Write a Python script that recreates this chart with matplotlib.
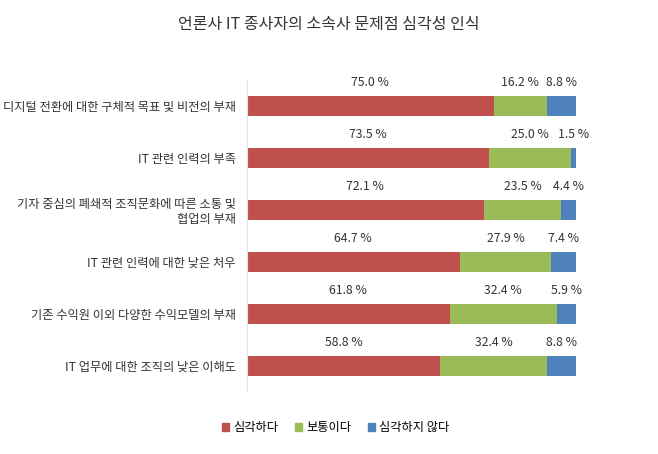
import numpy as np
import matplotlib
matplotlib.use("Agg")
from matplotlib import pyplot as plt
from matplotlib.patches import Patch

plt.rcParams['font.family'] = ['Noto Sans CJK KR', 'DejaVu Sans']

categories = ["디지털 전환에 대한 구체적 목표 및 비전의 부재",
              "IT 관련 인력의 부족",
              "기자 중심의 폐쇄적 조직문화에 따른 소통 및\n협업의 부재",
              "IT 관련 인력에 대한 낮은 처우",
              "기존 수익원 이외 다양한 수익모델의 부재",
              "IT 업무에 대한 조직의 낮은 이해도"]
series = ["심각하다", "보통이다", "심각하지 않다"]
serious = [75.0, 73.5, 72.1, 64.7, 61.8, 58.8]
normal = [16.2, 25.0, 23.5, 27.9, 32.4, 32.4]
not_serious = [8.8, 1.5, 4.4, 7.4, 5.9, 8.8]
colors = ["#C0504D", "#9BBB59", "#4F81BD"]

fig = plt.figure(figsize=(6.58, 4.54), dpi=100)
ax = fig.add_axes([0.375, 0.137, 0.5, 0.687])

y = np.arange(len(categories))
left = np.zeros(len(categories))
for vals, col in zip([serious, normal, not_serious], colors):
    vals = np.array(vals)
    ax.barh(y, vals, left=left, height=0.38, color=col)
    for yi, l, v in zip(y, left, vals):
        ax.text(l + v / 2, yi - 0.45, "%.1f %%" % v, ha='center', va='center',
                fontsize=8.8, color='#333333')
    left = left + vals

ax.set_xlim(0, 100)
ax.set_ylim(5.5, -0.5)
ax.set_yticks(y)
ax.set_yticklabels(categories, fontsize=8.8, color='#333333')
ax.tick_params(axis='y', length=0, pad=8)
ax.set_xticks([])
for s in ['top', 'right', 'bottom']:
    ax.spines[s].set_visible(False)
ax.spines['left'].set_color('#e6e6e6')

fig.suptitle("언론사 IT 종사자의 소속사 문제점 심각성 인식", x=0.5, y=0.965,
             fontsize=11.5, color='#333333')

handles = [Patch(color=c, label=s) for c, s in zip(colors, series)]
fig.legend(handles=handles, loc='center', bbox_to_anchor=(0.51, 0.058), ncol=3,
           frameon=False, fontsize=8.8, handlelength=0.6, handleheight=0.6,
           handletextpad=0.3, columnspacing=1.4)

fig.savefig("out.png", dpi=100)
